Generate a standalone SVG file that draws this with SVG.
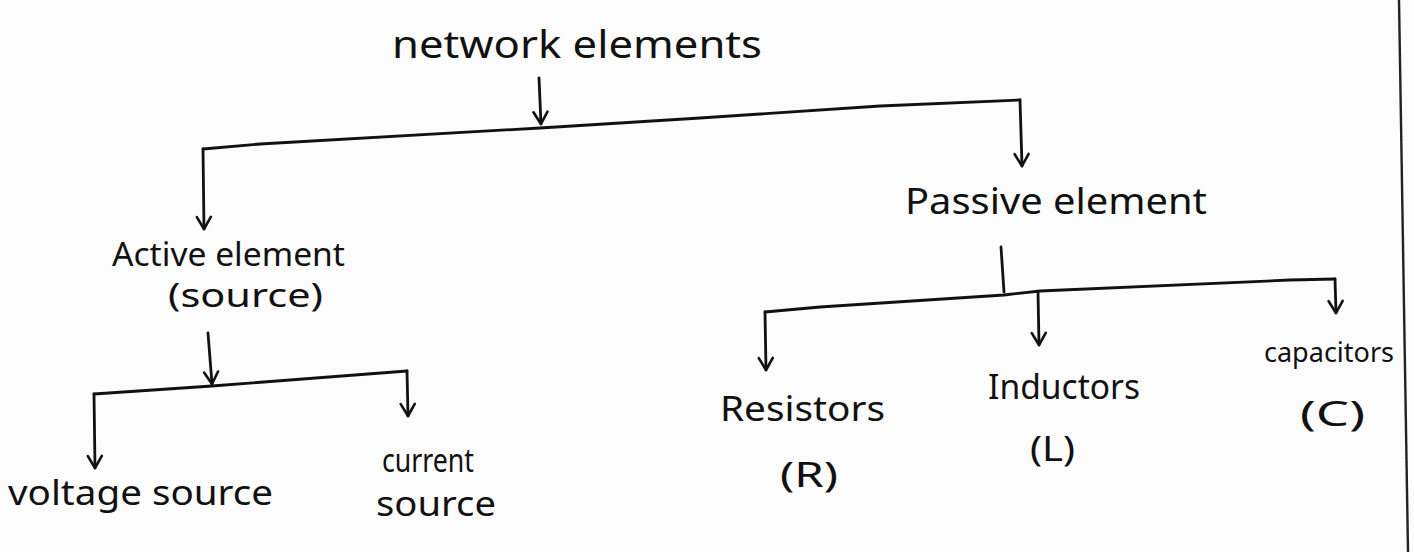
<svg xmlns="http://www.w3.org/2000/svg" width="1414" height="552" viewBox="0 0 1414 552">
  <defs>
    <!-- open "V" arrowhead used on every connector; tip points along +x -->
    <marker id="v" viewBox="0 0 16 18" refX="14" refY="9" markerWidth="16" markerHeight="18" markerUnits="userSpaceOnUse" orient="auto">
      <path d="M2,2 L14,9 L2,16" fill="none" stroke="#111" stroke-width="2.6" stroke-linecap="round" stroke-linejoin="round"/>
    </marker>
    <style>
      .ink { fill: none; stroke: #111; stroke-width: 2.8; stroke-linecap: round; stroke-linejoin: round; }
      .lbl { font-family: "Noto Sans", "Liberation Sans", sans-serif; fill: #111; }
    </style>
  </defs>

  <!-- paper -->
  <rect width="1414" height="552" fill="#fdfcfc"/>
  <!-- page margin rule -->
  <line x1="1399" y1="0" x2="1408" y2="552" stroke="#222" stroke-width="2.4"/>

  <!-- connectors -->
  <g id="connectors">
    <!-- network elements -> branch bar -->
    <path class="ink" d="M539,78 L541,124" marker-end="url(#v)"/>
    <path class="ink" d="M203,149 L260,144 L540,128 L700,118 L880,106 L1020,100"/>
    <path class="ink" d="M203,149 L204,229" marker-end="url(#v)"/>
    <path class="ink" d="M1020,100 L1022,166" marker-end="url(#v)"/>

    <!-- active element -> sources -->
    <path class="ink" d="M208,333 L212,384" marker-end="url(#v)"/>
    <path class="ink" d="M94,394 L212,386 L407,371"/>
    <path class="ink" d="M94,394 L95,468" marker-end="url(#v)"/>
    <path class="ink" d="M407,371 L408,416" marker-end="url(#v)"/>

    <!-- passive element -> R, L, C -->
    <path class="ink" d="M1001,247 L1004,292"/>
    <path class="ink" d="M765,312 L820,307 L1004,295 L1040,291 L1290,280 L1335,279"/>
    <path class="ink" d="M765,312 L766,370" marker-end="url(#v)"/>
    <path class="ink" d="M1038,292 L1039,345" marker-end="url(#v)"/>
    <path class="ink" d="M1335,279 L1336,313" marker-end="url(#v)"/>
  </g>

  <g id="network-elements">
    <text class="lbl" x="392" y="58" font-size="38" textLength="370" lengthAdjust="spacingAndGlyphs">network elements</text>
  </g>

  <g id="active-element">
    <text class="lbl" x="112" y="266" font-size="32" textLength="233" lengthAdjust="spacingAndGlyphs">Active element</text>
    <text class="lbl" x="168" y="307" font-size="32" textLength="155" lengthAdjust="spacingAndGlyphs">(source)</text>
  </g>

  <g id="passive-element">
    <text class="lbl" x="905" y="214" font-size="36" textLength="302" lengthAdjust="spacingAndGlyphs">Passive element</text>
  </g>

  <g id="voltage-source">
    <text class="lbl" x="8" y="505" font-size="34" textLength="265" lengthAdjust="spacingAndGlyphs">voltage source</text>
  </g>

  <g id="current-source">
    <text class="lbl" x="382" y="472" font-size="32" textLength="92" lengthAdjust="spacingAndGlyphs">current</text>
    <text class="lbl" x="376" y="516" font-size="34" textLength="120" lengthAdjust="spacingAndGlyphs">source</text>
  </g>

  <g id="resistors">
    <text class="lbl" x="720" y="421" font-size="34" textLength="165" lengthAdjust="spacingAndGlyphs">Resistors</text>
    <text class="lbl" x="780" y="487" font-size="34" textLength="58" lengthAdjust="spacingAndGlyphs">(R)</text>
  </g>

  <g id="inductors">
    <text class="lbl" x="988" y="399" font-size="34" textLength="152" lengthAdjust="spacingAndGlyphs">Inductors</text>
    <text class="lbl" x="1030" y="461" font-size="34" textLength="45" lengthAdjust="spacingAndGlyphs">(L)</text>
  </g>

  <g id="capacitors">
    <text class="lbl" x="1264" y="362" font-size="28" textLength="130" lengthAdjust="spacingAndGlyphs">capacitors</text>
    <text class="lbl" x="1300" y="426" font-size="34" textLength="65" lengthAdjust="spacingAndGlyphs">(C)</text>
  </g>
</svg>
